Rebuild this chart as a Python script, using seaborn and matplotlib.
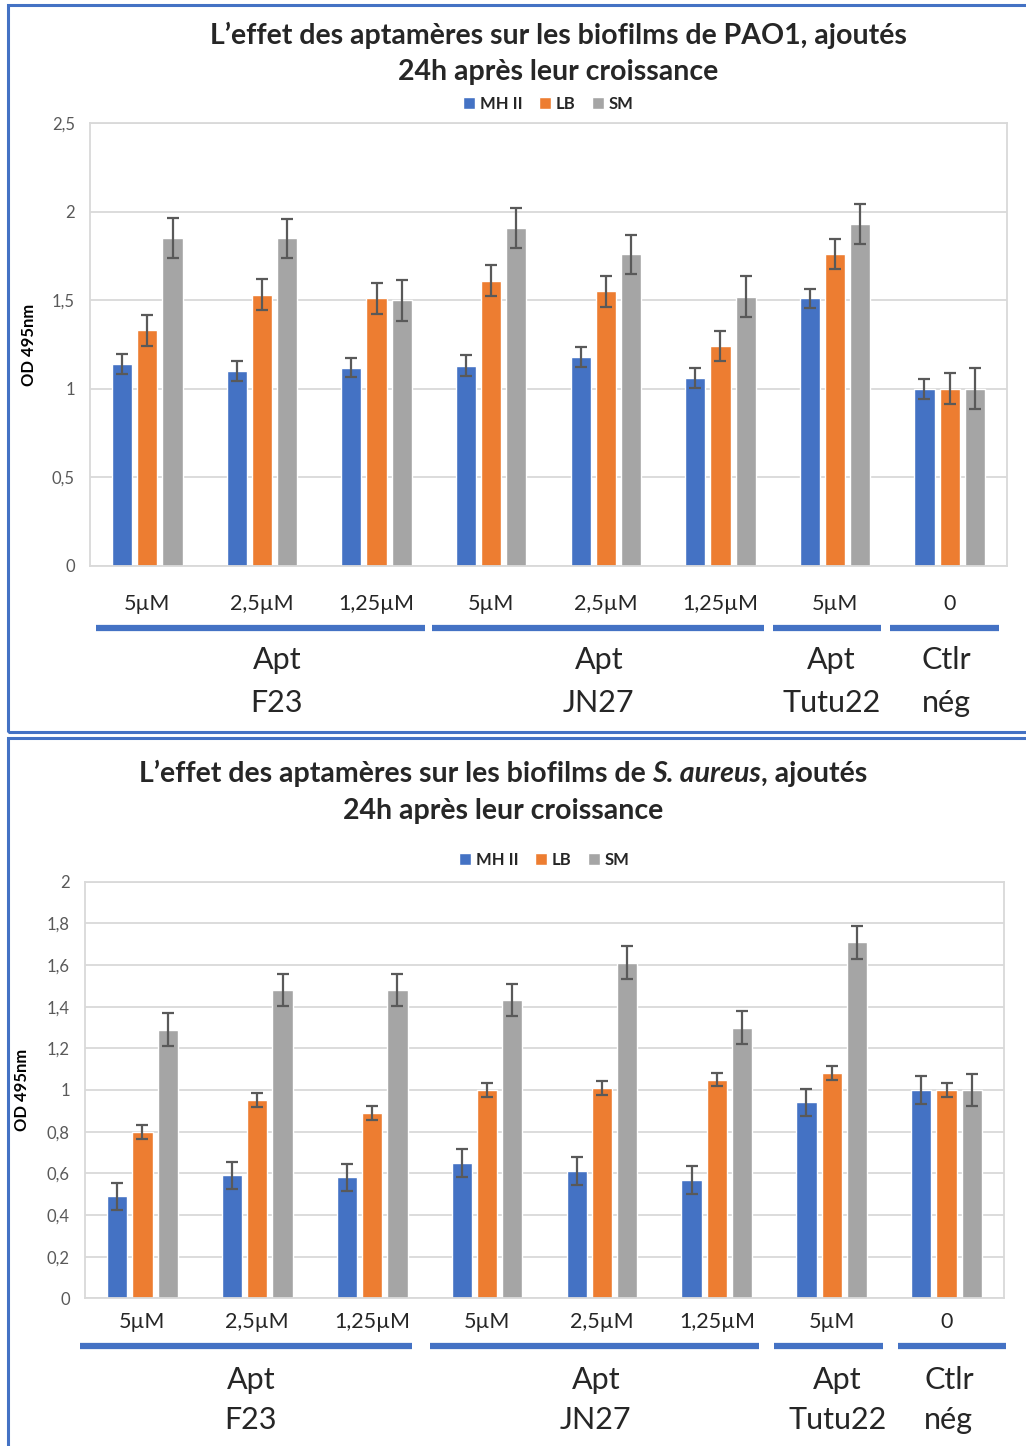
import matplotlib
matplotlib.use("Agg")

import numpy as np
import pandas as pd
import matplotlib.pyplot as plt
import seaborn as sns
import matplotlib.transforms as mtransforms
from matplotlib.patches import Rectangle, Patch
from matplotlib.ticker import FuncFormatter, MultipleLocator

# --- data -------------------------------------------------------------
conditions = ["F23_5", "F23_2.5", "F23_1.25", "JN27_5", "JN27_2.5", "JN27_1.25",
              "Tutu22_5", "Ctlr_0"]
concentrations = ["5µM", "2,5µM", "1,25µM", "5µM", "2,5µM", "1,25µM", "5µM", "0"]
aptamers = ["Apt\nF23", "Apt\nJN27", "Apt\nTutu22", "Ctlr\nnég"]
media = ["MH II", "LB", "SM"]

# PAO1
pao1_mh = [1.14, 1.10, 1.12, 1.13, 1.18, 1.06, 1.51, 1.00]
pao1_lb = [1.33, 1.53, 1.51, 1.61, 1.55, 1.24, 1.76, 1.00]
pao1_sm = [1.85, 1.85, 1.50, 1.91, 1.76, 1.52, 1.93, 1.00]
pao1_mh_err = [0.055, 0.055, 0.055, 0.058, 0.055, 0.055, 0.055, 0.058]
pao1_lb_err = [0.087, 0.088, 0.088, 0.087, 0.087, 0.085, 0.086, 0.088]
pao1_sm_err = [0.113, 0.11, 0.115, 0.113, 0.11, 0.117, 0.111, 0.116]

# S. aureus
sa_mh = [0.49, 0.59, 0.58, 0.65, 0.61, 0.57, 0.94, 1.00]
sa_lb = [0.80, 0.95, 0.89, 1.00, 1.01, 1.05, 1.08, 1.00]
sa_sm = [1.29, 1.48, 1.48, 1.43, 1.61, 1.30, 1.71, 1.00]
sa_mh_err = [0.065, 0.065, 0.067, 0.069, 0.068, 0.067, 0.066, 0.065]
sa_lb_err = [0.034, 0.034, 0.034, 0.033, 0.032, 0.032, 0.034, 0.033]
sa_sm_err = [0.08, 0.078, 0.078, 0.077, 0.079, 0.078, 0.079, 0.076]

COLORS = ["#4472C4", "#ED7D31", "#A5A5A5"]
BORDER = "#4472C4"
W, H = 1026, 1446
TITLE_SIZE = 20.5

sns.set_theme(style="whitegrid")
plt.rcParams['font.family'] = ['Lato', 'DejaVu Sans']


def make_df(mh, lb, sm):
    rows = []
    for med, vals in zip(media, [mh, lb, sm]):
        for cond, v in zip(conditions, vals):
            rows.append({"condition": cond, "medium": med, "od": v})
    return pd.DataFrame(rows)


def fy(ypx):
    # pixel row from the top -> figure fraction
    return 1 - ypx / H


def draw_panel(fig, rect, df, errs, ymax, ystep, tick_y, line_y, lab_y, spans, lab_x, legend_y, ylab_x):
    ax = fig.add_axes(rect)
    sns.barplot(data=df, x="condition", y="od", hue="medium", order=conditions,
                hue_order=media, palette=COLORS, saturation=1, width=0.66, gap=0.2,
                errorbar=None, legend=False, ax=ax)
    # error bars on top of each bar
    for cont, err in zip(ax.containers, errs):
        xs = [b.get_x() + b.get_width() / 2 for b in cont]
        ys = [b.get_height() for b in cont]
        ax.errorbar(xs, ys, yerr=err, fmt="none", ecolor="#595959",
                    elinewidth=1.6, capsize=4, capthick=1.6, zorder=5)

    ax.set_xlim(-0.5, len(conditions) - 0.5)
    ax.set_ylim(0, ymax)
    ax.yaxis.set_major_locator(MultipleLocator(ystep))
    ax.yaxis.set_major_formatter(FuncFormatter(lambda v, p: f"{v:g}".replace(".", ",")))
    ax.grid(axis="y", color="#d9d9d9", linewidth=1.3)
    ax.grid(axis="x", visible=False)
    for s in ax.spines.values():
        s.set_color("#d9d9d9")
        s.set_linewidth(1.3)
    ax.set_facecolor("white")
    ax.tick_params(axis="y", length=0, pad=11, labelsize=12, labelcolor="#595959")
    ax.tick_params(axis="x", length=0, labelsize=1)
    ax.set_xticks(range(len(conditions)))
    ax.set_xticklabels([])
    ax.set_xlabel("")
    ax.set_ylabel("OD 495nm", fontsize=12, fontweight="bold", color="black")
    ax.yaxis.set_label_coords(ylab_x, 0.5)

    trans = mtransforms.blended_transform_factory(ax.transData, fig.transFigure)
    for i, lab in enumerate(concentrations):
        fig.text(i, fy(tick_y), lab, transform=trans, ha="center", va="center",
                 fontsize=15.5)
    for (x0, x1) in spans:
        ax.plot([x0, x1], [fy(line_y)] * 2, transform=trans, color=BORDER,
                lw=4.5, clip_on=False, solid_capstyle="butt")
    for x, lab in zip(lab_x, aptamers):
        top, bot = lab.split("\n")
        fig.text(x, fy(lab_y[0]), top, transform=trans, ha="center", va="center", fontsize=22)
        fig.text(x, fy(lab_y[1]), bot, transform=trans, ha="center", va="center", fontsize=22)

    handles = [Patch(facecolor=c, label=m) for c, m in zip(COLORS, media)]
    fig.legend(handles=handles, loc="center", ncol=3, frameon=False,
               bbox_to_anchor=(ax.get_position().x0 + ax.get_position().width / 2, fy(legend_y)),
               handlelength=0.7, handleheight=0.7, handletextpad=0.3, columnspacing=1.0,
               prop={"weight": "bold", "size": 12})
    return ax


fig = plt.figure(figsize=(W / 100, H / 100), dpi=100)
fig.patch.set_facecolor("white")

# panel frames
fig.add_artist(Rectangle((8 / W, fy(732)), 1.1, (732 - 5) / H, transform=fig.transFigure,
                         fill=False, edgecolor=BORDER, lw=2.2))
fig.add_artist(Rectangle((8 / W, fy(1460)), 1.1, (1460 - 738) / H, transform=fig.transFigure,
                         fill=False, edgecolor=BORDER, lw=2.2))

# top panel: PAO1
draw_panel(fig, [90 / W, fy(566), 917 / W, 443 / H],
           make_df(pao1_mh, pao1_lb, pao1_sm), [pao1_mh_err, pao1_lb_err, pao1_sm_err],
           2.5, 0.5, tick_y=604, line_y=628, lab_y=(660, 703),
           spans=[(-0.45, 2.42), (2.48, 5.38), (5.46, 6.4), (6.48, 7.43)],
           lab_x=[1.13, 3.94, 5.97, 6.97], legend_y=104, ylab_x=-0.058)
fig.text(558 / W, fy(35), "L’effet des aptamères sur les biofilms de PAO1, ajoutés",
         ha="center", va="center", fontsize=TITLE_SIZE, fontweight="bold")
fig.text(558 / W, fy(72), "24h après leur croissance",
         ha="center", va="center", fontsize=TITLE_SIZE, fontweight="bold")

# bottom panel: S. aureus
draw_panel(fig, [85 / W, fy(1298.3), 919 / W, 416.6 / H],
           make_df(sa_mh, sa_lb, sa_sm), [sa_mh_err, sa_lb_err, sa_sm_err],
           2.0, 0.2, tick_y=1322, line_y=1346, lab_y=(1380, 1420),
           spans=[(-0.54, 2.35), (2.5, 5.37), (5.5, 6.45), (6.58, 7.52)],
           lab_x=[0.945, 3.947, 6.05, 7.02], legend_y=860, ylab_x=-0.06)

# title with italic species name, pieces laid out side by side
renderer = fig.canvas.get_renderer()
parts = [("L’effet des aptamères sur les biofilms de", "normal"),
         ("S. aureus", "italic"),
         (", ajoutés", "normal")]
probe1 = fig.text(0, 0, "a a", fontsize=TITLE_SIZE, fontweight="bold")
probe2 = fig.text(0, 0, "aa", fontsize=TITLE_SIZE, fontweight="bold")
space = probe1.get_window_extent(renderer).width - probe2.get_window_extent(renderer).width
probe1.remove()
probe2.remove()
texts = [fig.text(0, fy(782), s, fontsize=TITLE_SIZE, fontweight="bold", style=st, va="baseline")
         for s, st in parts]
widths = [t.get_window_extent(renderer).width for t in texts]
gaps = [space, 0, 0]
total = sum(widths) + space
x = 503 - total / 2
for t, w, g in zip(texts, widths, gaps):
    t.set_x(x / W)
    x += w + g
fig.text(503 / W, fy(811), "24h après leur croissance",
         ha="center", va="center", fontsize=TITLE_SIZE, fontweight="bold")

fig.savefig("out.png", dpi=100)
